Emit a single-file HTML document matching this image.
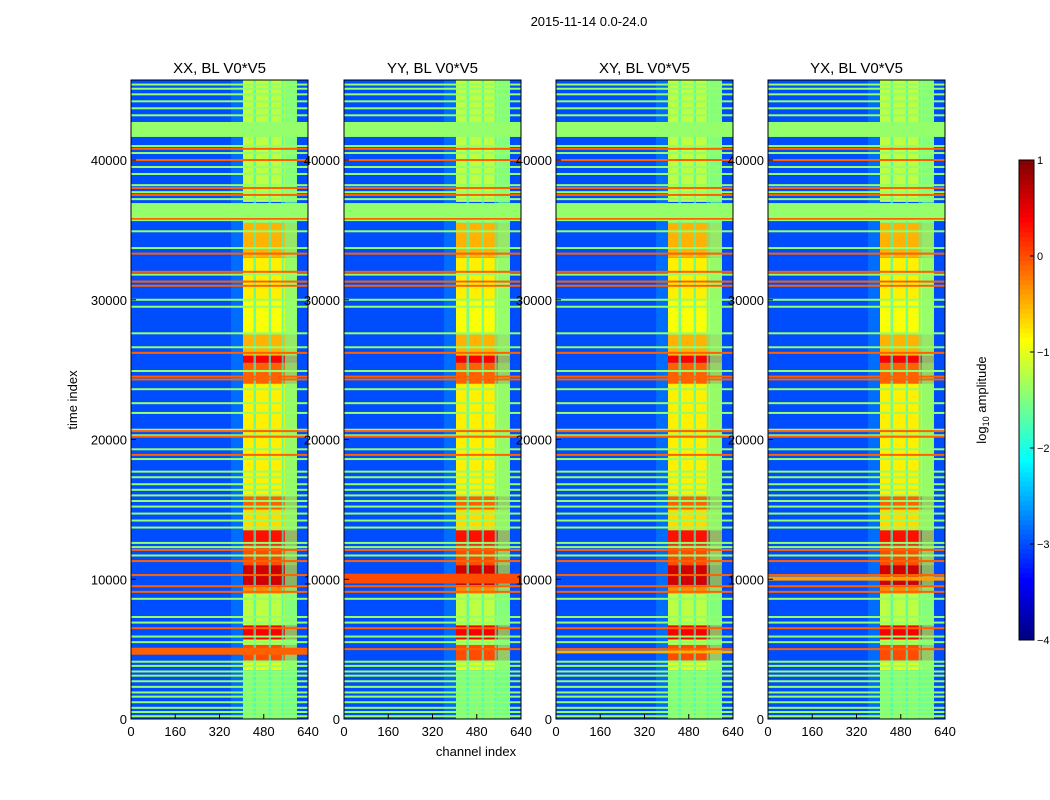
<!DOCTYPE html>
<html><head><meta charset="utf-8"><style>body{margin:0;background:#fff}svg{display:block;font-family:"Liberation Sans",sans-serif}</style></head>
<body>
<svg id="fig" width="1050" height="800" xmlns="http://www.w3.org/2000/svg">
<text x="589" y="26" font-size="13" text-anchor="middle">2015-11-14 0.0-24.0</text>
<text x="77" y="400" font-size="13" text-anchor="middle" transform="rotate(-90 77 400)">time index</text>
<text x="476" y="756" font-size="13" text-anchor="middle">channel index</text>
<g id="panels"></g>
<g id="cbar"></g>
</svg>
<script>
const panelTitles = ["XX, BL V0*V5","YY, BL V0*V5","XY, BL V0*V5","YX, BL V0*V5"];
const xTicks = [0,160,320,480,640];
const yTicks = [0,10000,20000,30000,40000];
const cbarTicks = [1,0,-1,-2,-3,-4];
const bgLevel = -3.0;
const bandLevels = [[0,3500,-1.5],[3500,4200,-1.0],[4200,5300,0.0],[5300,5700,-1.2],[5700,6700,0.4],[6700,9000,-1.2],[9000,9600,-0.3],[9600,11000,0.6],[11000,12500,0.0],[12500,13500,0.3],[13500,15000,-0.7],[15000,16000,-0.1],[16000,24000,-0.8],[24000,25500,-0.1],[25500,26000,0.4],[26000,27500,-0.5],[27500,30000,-0.9],[30000,33000,-0.8],[33000,35500,-0.5],[35500,36000,-1.3],[37000,45700,-1.2]];
const gapCols = [[443,452,-1.9],[498,506,-1.9],[545,552,-1.9],[556,600,-1.6]];
const glowCols = [[362,405,-2.2]];
const greenRows = [200,500,800,1200,1600,1900,2300,2700,3100,3400,3800,4100,5500,5900,6900,7300,8600,11700,12300,12600,13700,14200,14700,15200,15600,16000,16400,16800,17300,17700,18600,19300,20300,20700,21900,22600,23600,24900,26600,27600,29500,30000,31800,33700,34900,35700,37200,37700,38200,39000,39500,40500,41000,43200,43700,44200,44700,45100,45400];
const orangeRows = [5000,6500,9100,9500,10300,11300,12100,18900,20200,20600,24300,24500,26200,31000,31300,32000,33300,35800,37500,38000,40000,40800];
const greenBlocks = [[35850,36920],[41650,42720]];
const panelExtraRows = [[[4600,5100,-0.1]],[[9700,10400,0.0]],[[4700,4900,-0.5]],[[9900,10200,-0.4]]];
const panelLeft = [131,344,556,768];

function jet(v){
  let x=(v+4)/5; x=Math.max(0,Math.min(1,x));
  const f=t=>Math.max(0,Math.min(1,t));
  const r=f(Math.min(4*x-1.5,-4*x+4.5)), g=f(Math.min(4*x-0.5,-4*x+3.5)), b=f(Math.min(4*x+0.5,-4*x+2.5));
  return `rgb(${Math.round(r*255)},${Math.round(g*255)},${Math.round(b*255)})`;
}
const NS="http://www.w3.org/2000/svg";
function mk(tag,attrs,parent){const e=document.createElementNS(NS,tag);for(const k in attrs)e.setAttribute(k,attrs[k]);parent.appendChild(e);return e;}
const pTop=80,pBot=719,W=177,tMax=45725,chMax=640;
const yS=t=>pBot-(t/tMax)*(pBot-pTop);
const panels=document.getElementById('panels');
panelTitles.forEach((title,i)=>{
  const L=panelLeft[i];
  const xS=c=>L+c/chMax*W;
  const g=mk('g',{},panels);
  
  
  const bg=mk('rect',{x:L,y:pTop,width:W,height:pBot-pTop,fill:jet(bgLevel)},g);
  
  
  glowCols.forEach(c=>{const r=mk('rect',{x:xS(c[0]),y:pTop,width:xS(c[1])-xS(c[0]),height:pBot-pTop,fill:jet(c[2]),opacity:0.2},g);
    });
  bandLevels.forEach(b=>{const r=mk('rect',{x:xS(405),y:yS(b[1]),width:xS(600)-xS(405),height:yS(b[0])-yS(b[1]),fill:jet(b[2])},g);
    });
  gapCols.forEach(c=>{const r=mk('rect',{x:xS(c[0]),y:pTop,width:xS(c[1])-xS(c[0]),height:pBot-pTop,fill:jet(c[2]),opacity:0.7},g);
    });
  greenRows.forEach(t=>{const r=mk('rect',{x:L,y:yS(t)-1,width:W,height:2,fill:jet(-1.4)},g);
    });
  orangeRows.forEach(t=>{const r=mk('rect',{x:L,y:yS(t)-1,width:W,height:2,fill:jet(-0.1)},g);
    });
  greenBlocks.forEach(b=>{const r=mk('rect',{x:L,y:yS(b[1]),width:W,height:yS(b[0])-yS(b[1]),fill:jet(-1.4)},g);
    });
  panelExtraRows[i].forEach(b=>{const r=mk('rect',{x:L,y:yS(b[1]),width:W,height:yS(b[0])-yS(b[1]),fill:jet(b[2])},g);
    });
  const fr=mk('rect',{x:L,y:pTop,width:W,height:pBot-pTop,fill:'none',stroke:'#000','stroke-width':1},g);
  
  const tt=mk('text',{x:L+W/2,y:73,'font-size':15,'text-anchor':'middle'},g);tt.textContent=title;
  
  xTicks.forEach(v=>{const x=xS(v);mk('line',{x1:x,x2:x,y1:pBot,y2:pBot-5,stroke:'#000'},g);
    const t=mk('text',{x:x,y:pBot+17,'font-size':13,'text-anchor':'middle'},g);t.textContent=v;
    });
  yTicks.forEach(v=>{const y=yS(v);mk('line',{x1:L,x2:L+5,y1:y,y2:y,stroke:'#000'},g);
    const t=mk('text',{x:L-4,y:y+5,'font-size':13,'text-anchor':'end'},g);t.textContent=v;
    });
});
const cb=document.getElementById('cbar');
const cT=160,cB=640,cL=1019,cW=15;
const cy=v=>cB-(v+4)/5*(cB-cT);
for(let k=0;k<100;k++){const v0=-4+k*0.05;const r=mk('rect',{x:cL,y:cy(v0+0.05)-0.3,width:cW,height:(cB-cT)/100+0.6,fill:jet(v0+0.025)},cb);
  }
const cf=mk('rect',{x:cL,y:cT,width:cW,height:cB-cT,fill:'none',stroke:'#000'},cb);

cbarTicks.forEach(v=>{const y=cy(v);mk('line',{x1:cL+cW-4,x2:cL+cW,y1:y,y2:y,stroke:'#000'},cb);
  const t=mk('text',{x:cL+cW+3,y:y+4,'font-size':11},cb);t.textContent=v<0?'\u2212'+(-v):v;
  });
const cl=mk('text',{x:986,y:400,'font-size':13,'text-anchor':'middle',transform:'rotate(-90 986 400)'},cb);
cl.innerHTML='log<tspan font-size="9" dy="3">10</tspan><tspan dy="-3"> amplitude</tspan>';

</script>
</body></html>
